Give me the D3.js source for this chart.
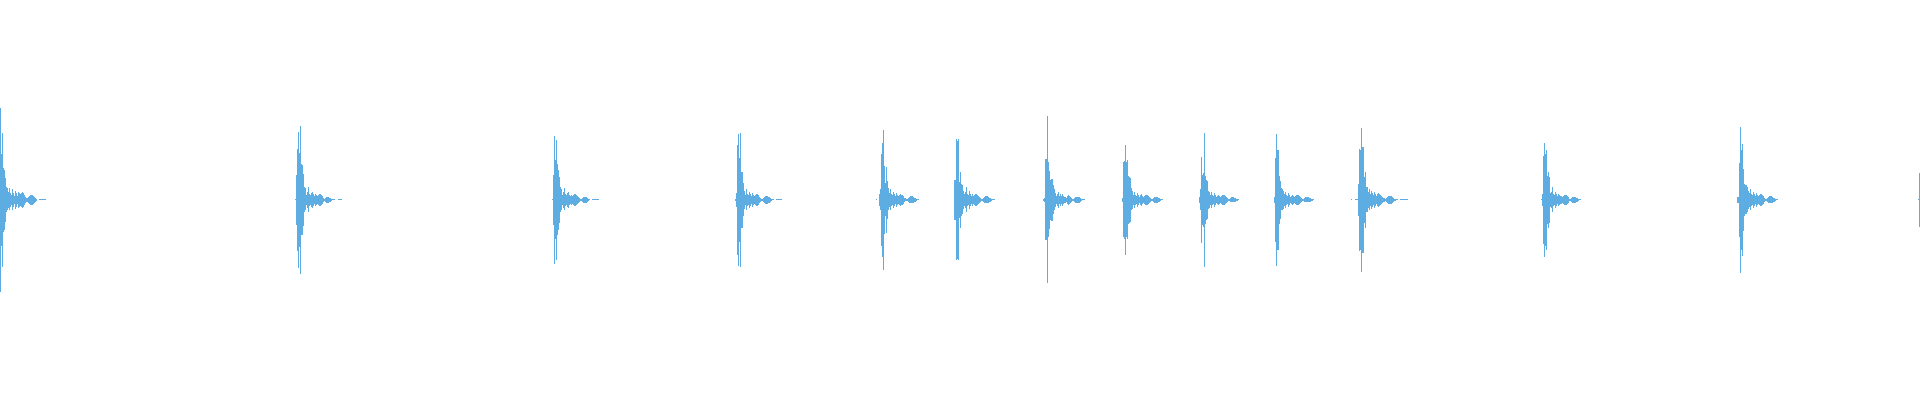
<!DOCTYPE html>
<html>
<head>
<meta charset="utf-8">
<script src="https://cdn.jsdelivr.net/npm/d3@7"></script>
<style>
  html, body { margin: 0; padding: 0; background: #fff; overflow: hidden; }
</style>
</head>
<body>
<div class="chart"></div>
<script>
// waveform peaks, one value per 10 ms bin
var duration = 19.2;
var binSec = 0.01;

var onsets = [0.00, 2.95, 5.52, 7.35, 8.76, 9.54, 10.43, 11.22, 11.99, 12.74, 13.51, 15.41, 17.37, 19.18];

var hit1 = [0.92,0.46,0.67,0.32,0.30,0.22,0.13,0.11,0.08,0.11,0.07,0.05,0.10,0.07,0.04,0.09,0.07,0.04,0.08,0.07,
  0.06,0.07,0.08,0.07,0.05,0.03,0.02,0.02,0.03,0.04,0.05,0.05,0.05,0.04,0.03,0.02,0.01,0,0,
  0.005,0.005,0.005,0.005,0.005,0.005,0.005];
var hit2 = [0.005,0.25,0.51,0.68,0.47,0.74,0.36,0.35,0.26,0.13,0.11,0.05,0.08,0.12,0.06,0.05,0.07,0.08,0.06,0.04,
  0.06,0.05,0.04,0.05,0.06,0.06,0.05,0.04,0.02,0.01,0.02,0.03,0.03,0.03,0.02,0.02,0.01,0.005,0.005,0.005,
  0,0,0,0.005,0.005,0.005,0.005];
var hit3 = [0.005,0.25,0.64,0.40,0.60,0.36,0.30,0.23,0.12,0.10,0.05,0.08,0.11,0.06,0.05,0.07,0.08,0.05,0.04,0.05,
  0.04,0.05,0.06,0.06,0.05,0.04,0.03,0.02,0.01,0.01,0.02,0.03,0.03,0.03,0.03,0.02,0.01,0.005,0,0,
  0.005,0.005,0.005,0.005,0.005,0.005,0.005];
var hit4 = [0.01,0.07,0.55,0.66,0.42,0.67,0.28,0.28,0.17,0.09,0.05,0.10,0.06,0.05,0.08,0.06,0.04,0.07,0.05,0.04,
  0.05,0.06,0.06,0.05,0.03,0.02,0.01,0.01,0.02,0.03,0.04,0.04,0.04,0.03,0.03,0.02,0.01,0.005,0.005,0,
  0,0.005,0.005,0.005,0.005,0.005,0.005];
var hit5 = [0.005,0,0,0.06,0.10,0.46,0.57,0.70,0.34,0.17,0.33,0.19,0.11,0.07,0.10,0.06,0.05,0.08,0.06,0.04,
  0.07,0.05,0.04,0.05,0.06,0.05,0.05,0.04,0.02,0.015,0.01,0.01,0.02,0.03,0.035,0.035,0.035,0.03,0.02,0.02,
  0.01,0.005,0.005];
var hit6 = [0.20,0.20,0.61,0.59,0.61,0.18,0.28,0.16,0.14,0.09,0.06,0.08,0.13,0.06,0.05,0.09,0.06,0.04,0.06,0.04,
  0.05,0.06,0.06,0.05,0.04,0.03,0.02,0.01,0.01,0.02,0.03,0.035,0.035,0.035,0.03,0.02,0.02,0.01,0.005,0.005,
  0.005];
var hit7 = [0.01,0.02,0.41,0.41,0.84,0.38,0.29,0.20,0.21,0.21,0.14,0.10,0.07,0.04,0.06,0.08,0.04,0.06,0.04,0.06,
  0.04,0.03,0.03,0.02,0.04,0.05,0.04,0.03,0.02,0.01,0.01,0.02,0.03,0.03,0.03,0.03,0.03,0.02,0.01,0.005,
  0.005,0.005];
var hit8 = [0.02,0.38,0.39,0.55,0.38,0.40,0.24,0.23,0.22,0.11,0.09,0.05,0.08,0.05,0.04,0.07,0.05,0.03,0.05,0.06,
  0.04,0.03,0.04,0.05,0.05,0.05,0.04,0.03,0.02,0.01,0.01,0.02,0.03,0.03,0.03,0.03,0.02,0.02,0.01,0.005,
  0.005];
var hit9 = [0.03,0.10,0.43,0.25,0.27,0.67,0.24,0.20,0.19,0.09,0.08,0.05,0.08,0.05,0.04,0.07,0.05,0.03,0.04,0.05,
  0.04,0.03,0.04,0.05,0.05,0.05,0.04,0.03,0.02,0.01,0.01,0.02,0.025,0.025,0.025,0.02,0.02,0.01,0.01,0.005];
var hit10 = [0.03,0.42,0.66,0.50,0.50,0.24,0.19,0.11,0.10,0.09,0.06,0.08,0.05,0.04,0.07,0.05,0.03,0.04,0.05,0.04,
  0.03,0.04,0.05,0.05,0.05,0.04,0.03,0.02,0.01,0.01,0.02,0.025,0.025,0.025,0.025,0.02,0.02,0.01,0.01,0.005];
var hit11 = [0.005,0,0,0,0.005,0.005,0.005,0.16,0.51,0.50,0.72,0.53,0.53,0.23,0.28,0.12,0.12,0.08,0.10,0.06,
  0.09,0.07,0.05,0.08,0.06,0.04,0.06,0.07,0.06,0.05,0.04,0.03,0.02,0.02,0.01,0.02,0.03,0.04,0.04,0.04,
  0.04,0.03,0.02,0.01,0.01,0.005,0.005,0,0,0.005,0.005,0.005,0.005,0.005,0.005,0.005,0.005];
var hit12 = [0.005,0.06,0.44,0.57,0.46,0.50,0.24,0.28,0.23,0.07,0.08,0.12,0.06,0.05,0.08,0.06,0.04,0.06,0.05,0.04,
  0.04,0.03,0.04,0.05,0.05,0.05,0.04,0.03,0.01,0.01,0.02,0.03,0.03,0.03,0.03,0.02,0.02,0.01,0.005,0.005];
var hit13 = [0.03,0.03,0.37,0.73,0.50,0.56,0.31,0.16,0.15,0.15,0.13,0.09,0.07,0.10,0.06,0.05,0.08,0.06,0.04,0.07,
  0.05,0.04,0.05,0.06,0.06,0.05,0.04,0.02,0.01,0.01,0.02,0.03,0.035,0.035,0.035,0.03,0.02,0.02,0.01,0.005,
  0.005];
var hit14 = [0.005,0.27];

var hits = [hit1, hit2, hit3, hit4, hit5, hit6, hit7, hit8, hit9, hit10, hit11, hit12, hit13, hit14];

var svgWidth = 1920;
var svgHeight = 400;
var waveColor = "#5dade2";

var svg = d3.select(".chart")
  .append("svg")
  .attr("width", svgWidth)
  .attr("height", svgHeight)
  .style("display", "block");

var xScale = d3.scaleLinear()
  .domain([0, duration])
  .range([0, svgWidth]);

// amplitude -1..1 around the middle row
var yScale = d3.scaleLinear()
  .domain([-1, 1])
  .range([299.5, 99.5]);

// flatten to one record per bin
var bins = [];
hits.forEach(function(peaks, h) {
  peaks.forEach(function(a, i) {
    if (a > 0) bins.push({ t: onsets[h] + i * binSec, amp: a });
  });
});

var colW = Math.max(1, Math.round(xScale(binSec) - xScale(0)));

svg.append("g")
  .attr("shape-rendering", "crispEdges")
  .selectAll("rect")
  .data(bins)
  .enter()
  .append("rect")
  .attr("x", d => Math.round(xScale(d.t)))
  .attr("width", colW)
  .attr("y", function(d) {
    var top = Math.round(yScale(d.amp));
    var bot = Math.round(yScale(-d.amp));
    return bot - top < 1 ? Math.floor(yScale(0)) : top;
  })
  .attr("height", function(d) {
    var top = Math.round(yScale(d.amp));
    var bot = Math.round(yScale(-d.amp));
    return Math.max(1, bot - top);
  })
  .attr("fill", waveColor);
</script>
</body>
</html>
